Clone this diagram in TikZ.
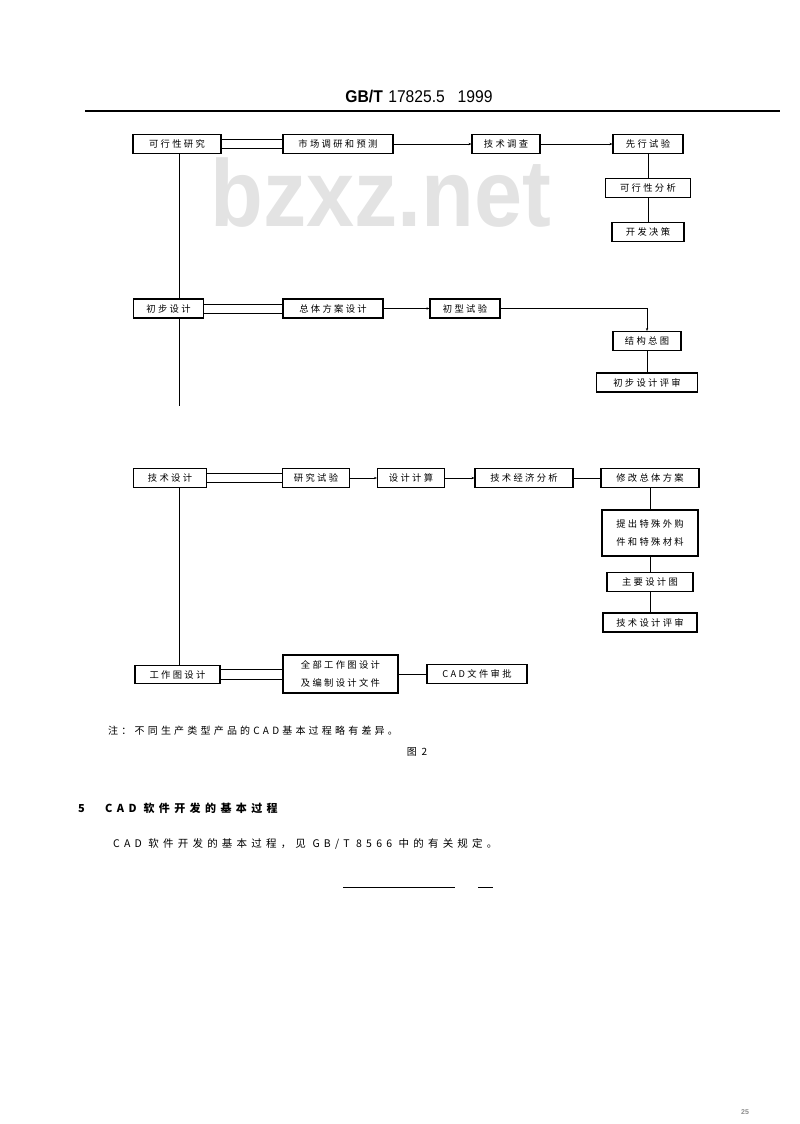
\documentclass[tikz,border=0pt]{standalone}
\usepackage{fontspec}
\setmainfont{Liberation Serif}
\newfontfamily\cjk{Noto Sans CJK SC}
\newfontfamily\cjkwide[LetterSpace=25]{Noto Sans CJK SC}
\newfontfamily\cjknote[LetterSpace=32]{Noto Sans CJK SC}
\newfontfamily\cjkwider[LetterSpace=40]{Noto Sans CJK SC}
\newfontfamily\latinsans{Liberation Sans}
\usepackage{tikz}
\usetikzlibrary{arrows.meta,positioning}

\tikzset{
  stage/.style={draw, line width=1.1pt, minimum height=19pt, inner sep=1pt, font=\cjkwide\fontsize{9.3}{11}\selectfont},
  link/.style={line width=0.6pt},
  flow/.style={line width=0.6pt, -{Stealth[length=3pt,width=2.4pt]}},
  plain/.style={inner sep=0pt, anchor=base west}
}

\begin{document}
\begin{tikzpicture}[x=1pt, y=-1pt]
    \useasboundingbox (0,0) rectangle (800,1124);

    \node[plain, text=black!11, font=\latinsans\bfseries\fontsize{95}{95}\selectfont] (watermark) at (210,226) {\scalebox{0.91}[1]{bzxz.net}};

    \node[inner sep=0pt, font=\latinsans\fontsize{17}{17}\selectfont] (header) at (419,97) {\scalebox{0.92}[1]{\textbf{GB/T}\hspace{6pt}17825.5\hspace{14pt}1999}};

    \draw[line width=1.1pt] (85,111) -- (780,111);

    \node[stage, minimum width=88pt] (feasibility) at (177,144) {可行性研究};

    \node[stage, minimum width=110pt] (market) at (338,144) {市场调研和预测};

    \node[stage, minimum width=68pt] (survey) at (506,144) {技术调查};

    \node[stage, minimum width=70pt] (pretest) at (648,144) {先行试验};

    \node[stage, minimum width=85pt] (analysis) at (648,188) {可行性分析};

    \node[stage, minimum width=72pt] (decision) at (648,232) {开发决策};

    \node[stage, minimum width=70pt] (prelim) at (168.5,308.5) {初步设计};

    \node[stage, minimum width=100pt] (scheme) at (333,308.5) {总体方案设计};

    \node[stage, minimum width=70pt] (prototype) at (465,308.5) {初型试验};

    \node[stage, minimum width=68pt] (layout) at (647,341) {结构总图};

    \node[stage, minimum width=101pt] (prereview) at (647,382.5) {初步设计评审};

    \node[stage, minimum width=73pt] (technical) at (170,478) {技术设计};

    \node[stage, minimum width=67pt] (research) at (316,478) {研究试验};

    \node[stage, minimum width=67pt] (calculation) at (411,478) {设计计算};

    \node[stage, minimum width=98pt] (economics) at (524,478) {技术经济分析};

    \node[stage, minimum width=98pt] (revision) at (650,478) {修改总体方案};

    \node[stage, minimum width=96pt, minimum height=46pt, align=center, font=\cjkwide\fontsize{9.3}{18}\selectfont] (purchase) at (650,533) {提出特殊外购\\件和特殊材料};

    \node[stage, minimum width=86pt] (drawings) at (650,582) {主要设计图};

    \node[stage, minimum width=94pt] (techreview) at (650,622.5) {技术设计评审};

    \node[stage, minimum width=85pt, minimum height=18pt] (working) at (177.5,674.5) {工作图设计};

    \node[stage, minimum width=115pt, minimum height=38pt, align=center, font=\cjkwide\fontsize{9.3}{18}\selectfont] (documents) at (340.5,674) {全部工作图设计\\及编制设计文件};

    \node[stage, minimum width=100pt] (approval) at (477,674) {CAD文件审批};

    \coordinate (trunk) at (179,0);

    \coordinate (trunkend) at (179,406);

    \draw[link] (feasibility.south -| trunk) -- (prelim.north -| trunk);

    \draw[link] (prelim.south -| trunk) -- (trunkend);

    \draw[link] (technical.south -| trunk) -- (working.north -| trunk);

    \draw[link] ([yshift=4.5pt]feasibility.east) -- ([yshift=4.5pt]feasibility.east -| market.west);
    \draw[link] ([yshift=-4.5pt]feasibility.east) -- ([yshift=-4.5pt]feasibility.east -| market.west);

    \draw[flow] (market) -- (survey);

    \draw[flow] (survey) -- (pretest);

    \draw[link] (pretest) -- (analysis);

    \draw[link] (analysis) -- (decision);

    \draw[link] ([yshift=4.5pt]prelim.east) -- ([yshift=4.5pt]prelim.east -| scheme.west);
    \draw[link] ([yshift=-4.5pt]prelim.east) -- ([yshift=-4.5pt]prelim.east -| scheme.west);

    \draw[flow] (scheme) -- (prototype);

    \draw[flow] (prototype) -| (layout);

    \draw[link] (layout) -- (prereview);

    \draw[link] ([yshift=4.5pt]technical.east) -- ([yshift=4.5pt]technical.east -| research.west);
    \draw[link] ([yshift=-4.5pt]technical.east) -- ([yshift=-4.5pt]technical.east -| research.west);

    \draw[flow] (research) -- (calculation);

    \draw[flow] (calculation) -- (economics);

    \draw[link] (economics) -- (revision);

    \draw[link] (revision) -- (purchase);

    \draw[link] (purchase) -- (drawings);

    \draw[link] (drawings) -- (techreview);

    \draw[link] ([yshift=5pt]working.east) -- ([yshift=5pt]working.east -| documents.west);
    \draw[link] ([yshift=-5pt]working.east) -- ([yshift=-5pt]working.east -| documents.west);

    \draw[link] (documents) -- (approval);

    \node[plain, font=\cjknote\fontsize{10}{12}\selectfont] (note) at (108,734) {注：不同生产类型产品的CAD基本过程略有差异。};

    \node[inner sep=0pt, font=\cjkwide\fontsize{10}{12}\selectfont] (figlabel) at (417,752) {图 2};

    \node[plain, font=\cjk\bfseries\fontsize{11}{13}\selectfont] (secnum) at (78,812) {5};

    \node[plain, font=\cjkwider\bfseries\fontsize{11}{13}\selectfont] (sectitle) at (105,812) {CAD 软件开发的基本过程};

    \node[plain, font=\cjkwider\fontsize{10.5}{13}\selectfont] (body) at (113,847) {CAD 软件开发的基本过程，见 GB/T 8566 中的有关规定。};

    \draw[line width=0.8pt] (343,887) -- (455,887);
    \draw[line width=0.8pt] (478,887) -- (493,887);

    \node[inner sep=0pt, text=black!45, font=\latinsans\bfseries\fontsize{7}{8}\selectfont] (pagenum) at (745,1112) {25};
\end{tikzpicture}
\end{document}
